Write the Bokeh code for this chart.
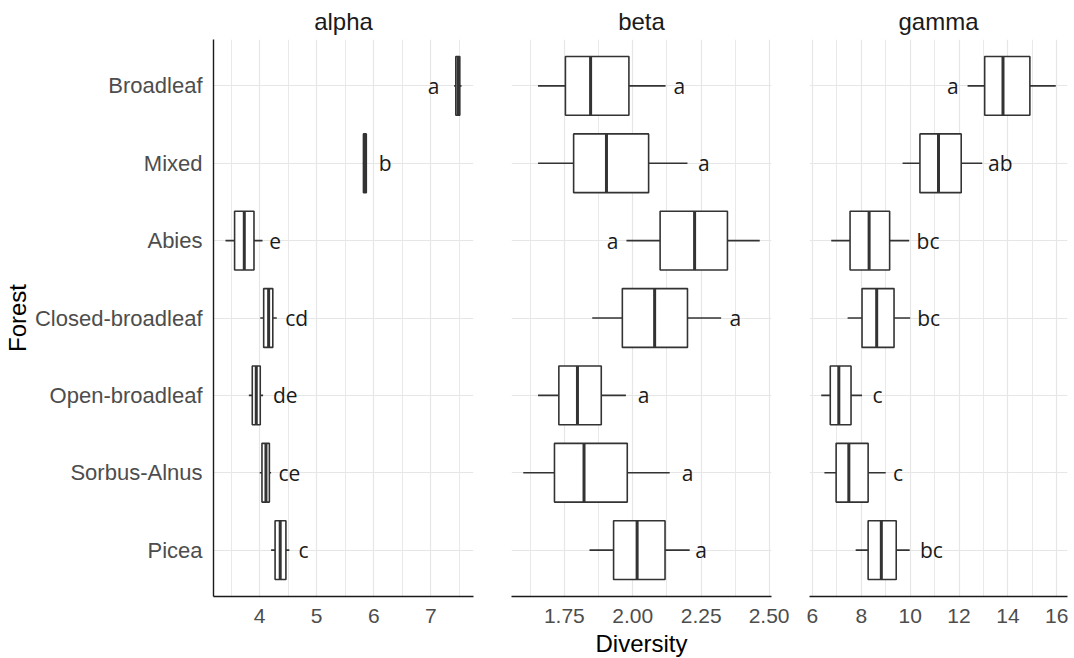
from bokeh.plotting import figure
from bokeh.layouts import row
from bokeh.models import Range1d, FixedTicker, ColumnDataSource
from bokeh.core.properties import value
from bokeh.embed import file_html
from bokeh.resources import INLINE

forests = ["Broadleaf", "Mixed", "Abies", "Closed-broadleaf", "Open-broadleaf", "Sorbus-Alnus", "Picea"]

# alpha diversity
alpha_wlo = [7.41, 5.81, 3.40, 4.01, 3.81, 4.00, 4.20]
alpha_q1 = [7.44, 5.82, 3.56, 4.07, 3.87, 4.04, 4.27]
alpha_med = [7.48, 5.845, 3.73, 4.157, 3.94, 4.11, 4.36]
alpha_q3 = [7.51, 5.87, 3.90, 4.23, 4.01, 4.17, 4.46]
alpha_whi = [7.54, 5.88, 4.05, 4.30, 4.06, 4.20, 4.52]
alpha_lab_x = [7.05, 6.20, 4.27, 4.65, 4.45, 4.52, 4.77]
alpha_letters = ["a", "b", "e", "cd", "de", "ce", "c"]

# beta diversity
beta_wlo = [1.654, 1.654, 1.977, 1.852, 1.654, 1.600, 1.842]
beta_q1 = [1.754, 1.784, 2.100, 1.962, 1.730, 1.714, 1.930]
beta_med = [1.846, 1.904, 2.226, 2.080, 1.798, 1.822, 2.016]
beta_q3 = [1.986, 2.058, 2.346, 2.200, 1.885, 1.980, 2.118]
beta_whi = [2.120, 2.200, 2.464, 2.323, 1.975, 2.135, 2.208]
beta_lab_x = [2.17, 2.26, 1.926, 2.375, 2.04, 2.20, 2.25]
beta_letters = ["a", "a", "a", "a", "a", "a", "a"]

# gamma diversity
gamma_wlo = [12.35, 9.69, 6.77, 7.44, 6.36, 6.49, 7.77]
gamma_q1 = [13.05, 10.40, 7.54, 8.03, 6.73, 6.97, 8.28]
gamma_med = [13.80, 11.16, 8.32, 8.63, 7.08, 7.49, 8.82]
gamma_q3 = [14.90, 12.09, 9.16, 9.34, 7.58, 8.28, 9.43]
gamma_whi = [15.96, 12.95, 9.96, 10.00, 8.03, 9.00, 9.98]
gamma_lab_x = [11.75, 13.69, 10.73, 10.76, 8.66, 9.50, 10.87]
gamma_letters = ["a", "ab", "bc", "bc", "c", "c", "bc"]

alpha_ticks = [4, 5, 6, 7]
alpha_minor = [3.5, 4.5, 5.5, 6.5, 7.5]
beta_ticks = [1.75, 2.00, 2.25, 2.50]
beta_tick_labels = ["1.75", "2.00", "2.25", "2.50"]
beta_minor = [1.625, 1.875, 2.125, 2.375]
gamma_ticks = [6, 8, 10, 12, 14, 16]
gamma_minor = [7, 9, 11, 13, 15]

n = len(forests)
ypos = [n - i for i in range(n)]
BOX_H = 0.76
FRAME_H = 557
Y_LO, Y_HI = 0.4, n + 0.6

AXIS_FONT = "Liberation Sans"
LAB_FONT = "Open Sans"
GRID = "#E6E6E6"
INK = "#333333"


def panel(title, xr, wlo, q1, med, q3, whi, labx, letters, ticks, minor, overrides,
          fw, bl, br, first=False, xlabel=None):
    p = figure(frame_width=fw, frame_height=FRAME_H, x_range=Range1d(*xr), y_range=Range1d(Y_LO, Y_HI),
               output_backend="svg", toolbar_location=None,
               y_axis_location="left" if first else None,
               min_border_left=bl, min_border_right=br, min_border_top=36, min_border_bottom=50)
    p.outline_line_color = None
    p.background_fill_color = "white"
    p.title.text = title
    p.title.align = "center"
    p.title.text_font = AXIS_FONT
    p.title.text_font_size = "24px"
    p.title.text_font_style = "normal"
    p.title.text_color = "#1A1A1A"

    xt = FixedTicker(ticks=ticks, minor_ticks=minor)
    p.xaxis.ticker = xt
    p.xgrid.ticker = xt
    p.xgrid.grid_line_color = GRID
    p.xgrid.grid_line_width = 1.2
    p.xgrid.minor_grid_line_color = GRID
    p.xgrid.minor_grid_line_width = 0.9
    yt = FixedTicker(ticks=ypos, minor_ticks=[])
    p.ygrid.ticker = yt
    p.ygrid.grid_line_color = GRID
    p.ygrid.grid_line_width = 1.2

    for ax in p.xaxis:
        ax.axis_line_color = "#1A1A1A"
        ax.axis_line_width = 1.4
        ax.major_tick_line_color = None
        ax.minor_tick_line_color = None
        ax.major_label_text_font = AXIS_FONT
        ax.major_label_text_font_size = "21px"
        ax.major_label_text_color = "#4D4D4D"
        ax.major_label_standoff = 6
        if overrides:
            ax.major_label_overrides = overrides
        if xlabel:
            ax.axis_label = xlabel
            ax.axis_label_text_font = AXIS_FONT
            ax.axis_label_text_font_size = "24px"
            ax.axis_label_text_font_style = "normal"
            ax.axis_label_text_color = "#000000"
            ax.axis_label_standoff = 4
    if first:
        for ax in p.yaxis:
            ax.ticker = yt
            ax.major_label_overrides = {y: f for y, f in zip(ypos, forests)}
            ax.axis_line_color = "#1A1A1A"
            ax.axis_line_width = 1.4
            ax.major_tick_line_color = None
            ax.minor_tick_line_color = None
            ax.major_label_text_font = AXIS_FONT
            ax.major_label_text_font_size = "22px"
            ax.major_label_text_color = "#4D4D4D"
            ax.major_label_standoff = 5
            ax.axis_label = "Forest"
            ax.axis_label_text_font = AXIS_FONT
            ax.axis_label_text_font_size = "24px"
            ax.axis_label_text_font_style = "normal"
            ax.axis_label_text_color = "#000000"
            ax.axis_label_standoff = 1

    src = ColumnDataSource(dict(y=ypos, wlo=wlo, q1=q1, med=med, q3=q3, whi=whi,
                                ylo=[y - BOX_H / 2 for y in ypos], yhi=[y + BOX_H / 2 for y in ypos],
                                labx=labx, lab=letters))
    p.segment(x0="wlo", y0="y", x1="q1", y1="y", source=src, line_color=INK, line_width=1.6)
    p.segment(x0="q3", y0="y", x1="whi", y1="y", source=src, line_color=INK, line_width=1.6)
    p.hbar(y="y", height=BOX_H, left="q1", right="q3", source=src,
           fill_color="white", line_color=INK, line_width=1.6)
    p.segment(x0="med", y0="ylo", x1="med", y1="yhi", source=src, line_color=INK, line_width=3.0)
    p.text(x="labx", y="y", text="lab", source=src, text_align="center", text_baseline="middle",
           text_font=value(LAB_FONT), text_font_size="21px", text_color="#1A1A1A")
    return p


p1 = panel("alpha", (3.19, 7.75), alpha_wlo, alpha_q1, alpha_med, alpha_q3, alpha_whi,
           alpha_lab_x, alpha_letters, alpha_ticks, alpha_minor, None,
           fw=260, bl=207, br=5, first=True)
p2 = panel("beta", (1.557, 2.507), beta_wlo, beta_q1, beta_med, beta_q3, beta_whi,
           beta_lab_x, beta_letters, beta_ticks, beta_minor,
           {t: s for t, s in zip(beta_ticks, beta_tick_labels)},
           fw=260, bl=33, br=18, xlabel="Diversity")
p3 = panel("gamma", (5.88, 16.44), gamma_wlo, gamma_q1, gamma_med, gamma_q3, gamma_whi,
           gamma_lab_x, gamma_letters, gamma_ticks, gamma_minor, None,
           fw=258, bl=20, br=6)

layout = row(p1, p2, p3)
open("out.html", "w").write(file_html(layout, INLINE))
